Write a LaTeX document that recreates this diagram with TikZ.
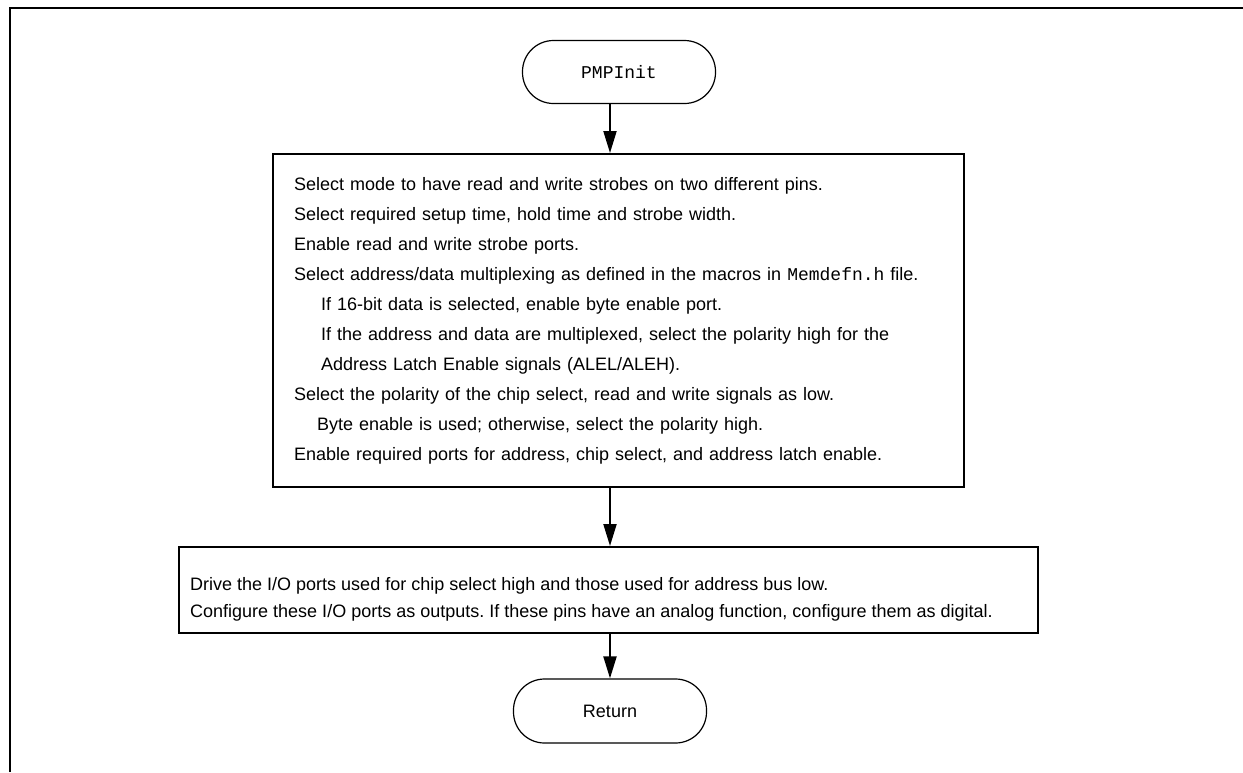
\documentclass[tikz,border=0pt]{standalone}
\usepackage{fontspec}
\setmainfont{Liberation Sans}
\newfontfamily\codefont{Liberation Mono}
\usetikzlibrary{arrows.meta}
\frenchspacing

\begin{document}
\begin{tikzpicture}[x=1pt,y=-1pt,
  terminal/.style={draw, line width=1.2pt, rounded corners=31pt,
    minimum width=193pt, minimum height=63pt, inner sep=0pt,
    font=\fontsize{18}{22}\selectfont},
  stepbox/.style={draw, line width=2pt, anchor=north west, align=left,
    inner ysep=0pt},
  steptext/.style={anchor=west, align=left, inner sep=0pt},
  flow/.style={line width=2pt, -{Triangle[length=22pt,width=13pt]}},
]
\useasboundingbox (0,0) rectangle (1243,772);

% page frame (top and left rules)
\draw[line width=2.5pt] (10,772) -- (10,8) -- (1243,8);

% shared x position of the vertical flow arrows
\coordinate (ax) at (610,0);

% start terminator
\node[terminal] (pmp) at (619,72) {\codefont PMPInit};

% configuration step
\node[stepbox, inner xsep=21pt, text width=649pt, minimum height=333pt,
      font=\fontsize{18}{30}\selectfont] (cfg) at (272,153) {%
Select mode to have read and write strobes on two different pins.\\
Select required setup time, hold time and strobe width.\\
Enable read and write strobe ports.\\
Select address/data multiplexing as defined in the macros in {\codefont Memdefn.h} file.\\
\hspace*{27pt}If 16-bit data is selected, enable byte enable port.\\
\hspace*{27pt}If the address and data are multiplexed, select the polarity high for the\\
\hspace*{27pt}Address Latch Enable signals (ALEL/ALEH).\\
Select the polarity of the chip select, read and write signals as low.\\
\hspace*{23pt}Byte enable is used; otherwise, select the polarity high.\\
Enable required ports for address, chip select, and address latch enable.};

% I/O port step: frame, then its text set a little below centre
\node[stepbox, minimum width=859pt, minimum height=86pt, inner sep=0pt] (io) at (178,546) {};
\node[steptext, font=\fontsize{18}{27}\selectfont] (iotext) at (190,599) {%
Drive the I/O ports used for chip select high and those used for address bus low.\\
Configure these I/O ports as outputs. If these pins have an analog function, configure them as digital.};

% end terminator
\node[terminal, minimum width=193pt, minimum height=64pt] (ret) at (610,711) {Return};

% flow arrows
\draw[flow] (pmp.south -| ax) -- (cfg.north -| ax);
\draw[flow] (cfg.south -| ax) -- (io.north -| ax);
\draw[flow] (io.south -| ax) -- (ret.north -| ax);
\end{tikzpicture}
\end{document}
